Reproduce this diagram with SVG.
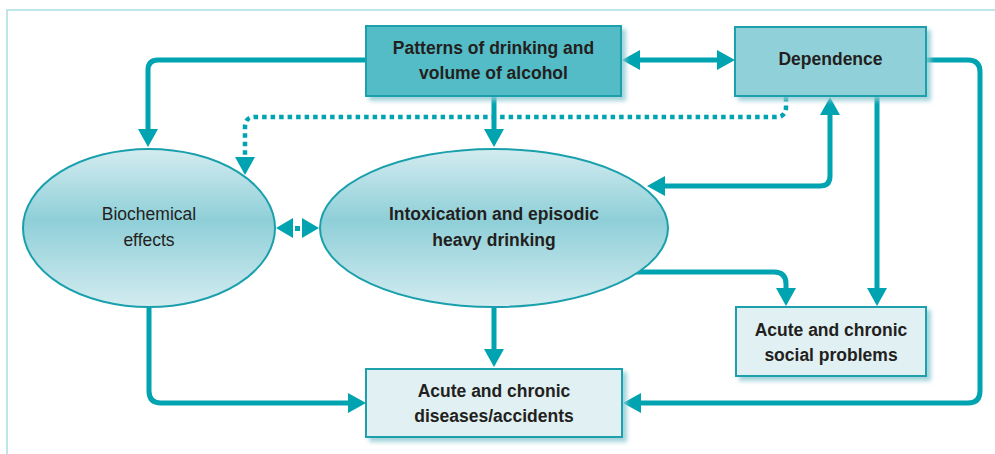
<svg xmlns="http://www.w3.org/2000/svg" width="995" height="454" viewBox="0 0 995 454">
<defs>
<linearGradient id="eg" x1="0" y1="0" x2="0" y2="1">
<stop offset="0" stop-color="#d3ecf0"/>
<stop offset="0.45" stop-color="#8fcfd8"/>
<stop offset="1" stop-color="#d3ecf0"/>
</linearGradient>
<filter id="sh" x="-10%" y="-10%" width="130%" height="140%">
<feDropShadow dx="4" dy="4" stdDeviation="2" flood-color="#8cc9d1" flood-opacity="0.8"/>
</filter>
<marker id="ah" markerUnits="userSpaceOnUse" viewBox="0 0 18 20" markerWidth="18" markerHeight="20" refX="8" refY="10" orient="auto-start-reverse">
<path d="M0,0 L18,10 L0,20 z" fill="#00a3b0"/>
</marker>
</defs>
<style>
.box{stroke:#1aa0ac;stroke-width:2}
.ell{fill:url(#eg);stroke:#1aa0ac;stroke-width:2}
.c{fill:none;stroke:#00a3b0;stroke-width:5}
.d{fill:none;stroke:#00a3b0;stroke-width:4.5;stroke-dasharray:4.5 4}
.t{font-family:"Liberation Sans",Arial,sans-serif;font-size:17.5px;fill:#231f20;text-anchor:middle}
.b{font-weight:bold}
.ahf{fill:#00a3b0}
</style>
<g id="frame">
<path d="M7,454 V10 H995" fill="none" stroke="#a9dde4" stroke-width="1.5"/>
</g>
<g id="connectors">
<path class="c" d="M366,60 H158 Q148,60 148,70 V137" marker-end="url(#ah)"/>
<path class="c" d="M494,96 V137" marker-end="url(#ah)"/>
<path class="c" d="M632,60 H725" marker-start="url(#ah)" marker-end="url(#ah)"/>
<path class="c" d="M830,107 V176 Q830,186 820,186 H657" marker-start="url(#ah)" marker-end="url(#ah)"/>
<path class="c" d="M877,96 V296" marker-end="url(#ah)"/>
<path class="c" d="M927,60 H968 Q980,60 980,72 V391 Q980,403 968,403 H633" marker-end="url(#ah)"/>
<path class="c" d="M636,272 H774 Q786,272 786,284 V296" marker-end="url(#ah)"/>
<path class="c" d="M494,307 V357" marker-end="url(#ah)"/>
<path class="c" d="M149,307 V391 Q149,403 161,403 H356" marker-end="url(#ah)"/>
<path class="d" d="M786,97 V107 Q786,117 776,117 H255 Q245,117 245,127 V158"/>
<path class="ahf" d="M235,157 L255,157 L245,175 z"/>
<path class="ahf" d="M276,228 L293,218 L293,238 z"/>
<rect class="ahf" x="295" y="226" width="5" height="5"/>
<path class="ahf" d="M319,228 L302,218 L302,238 z"/>
</g>
<g id="patterns">
<rect class="box" x="366" y="26" width="255" height="70" fill="#52bcc7" filter="url(#sh)"/>
<text class="t b" x="493.5" y="54">Patterns of drinking and</text>
<text class="t b" x="493.5" y="79">volume of alcohol</text>
</g>
<g id="dependence">
<rect class="box" x="735" y="27" width="191" height="69" fill="#90d0d9" filter="url(#sh)"/>
<text class="t b" x="830.5" y="65">Dependence</text>
</g>
<g id="biochemical">
<ellipse class="ell" cx="149" cy="228" rx="126" ry="79"/>
<text class="t" x="149" y="220">Biochemical</text>
<text class="t" x="149" y="246">effects</text>
</g>
<g id="intoxication">
<ellipse class="ell" cx="494" cy="228" rx="174" ry="79"/>
<text class="t b" x="494" y="220">Intoxication and episodic</text>
<text class="t b" x="494" y="246">heavy drinking</text>
</g>
<g id="social">
<rect class="box" x="736" y="307" width="190" height="69" fill="#e0f0f3" filter="url(#sh)"/>
<text class="t b" x="831" y="336">Acute and chronic</text>
<text class="t b" x="831" y="361">social problems</text>
</g>
<g id="diseases">
<rect class="box" x="366" y="369" width="256" height="68" fill="#e0f0f3" filter="url(#sh)"/>
<text class="t b" x="494" y="397">Acute and chronic</text>
<text class="t b" x="494" y="422">diseases/accidents</text>
</g>
</svg>
